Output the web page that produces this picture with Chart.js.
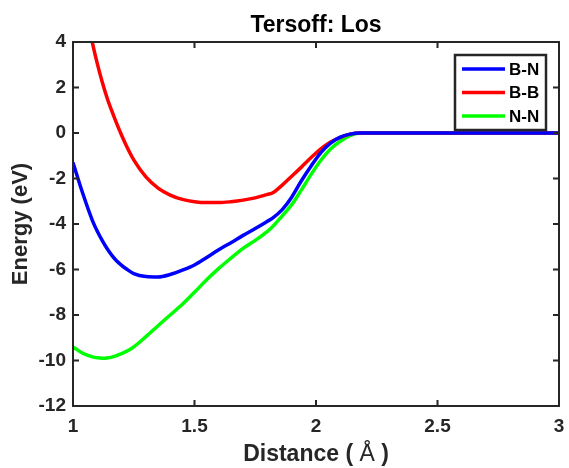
<!DOCTYPE html>
<html>
<head>
<meta charset="utf-8">
<script src="https://cdn.jsdelivr.net/npm/chart.js@4.4.1/dist/chart.umd.min.js"></script>
<style>
  html, body { margin: 0; padding: 0; background: #fff; }
  canvas { display: block; }
</style>
</head>
<body>
<canvas id="tersoffChart" width="569" height="468"></canvas>
<script>
// Pair energies of the Tersoff (Los) potential
const distance = [1.0, 1.04, 1.08, 1.1, 1.12, 1.14, 1.16, 1.18, 1.2, 1.22, 1.25, 1.3, 1.35, 1.4, 1.45, 1.5, 1.55, 1.6,
  1.65, 1.7, 1.75, 1.8, 1.82, 1.86, 1.9, 1.94, 1.98, 2.02, 2.06, 2.1, 2.14, 2.18, 2.4, 2.6, 2.8, 3.0];
const energyBN = [-1.3, -2.65, -3.85, -4.32, -4.72, -5.08, -5.38, -5.63, -5.82, -5.98, -6.18, -6.31, -6.33, -6.22, -6.03, -5.8, -5.47, -5.13,
  -4.82, -4.5, -4.2, -3.88, -3.75, -3.38, -2.82, -2.1, -1.45, -0.86, -0.44, -0.18, -0.05, 0, 0, 0, 0, 0];
const energyBB = [8.6, 6.0, 3.95, 3.05, 2.25, 1.55, 0.96, 0.41, -0.1, -0.57, -1.18, -1.93, -2.42, -2.73, -2.92, -3.02, -3.06, -3.06,
  -3.02, -2.95, -2.85, -2.7, -2.64, -2.3, -1.9, -1.5, -1.08, -0.7, -0.4, -0.19, -0.05, 0, 0, 0, 0, 0];
const energyNN = [-9.4, -9.68, -9.84, -9.88, -9.9, -9.89, -9.85, -9.78, -9.7, -9.6, -9.4, -8.95, -8.47, -8.0, -7.53, -7.0, -6.45, -5.95,
  -5.5, -5.07, -4.72, -4.32, -4.13, -3.65, -3.15, -2.5, -1.82, -1.2, -0.7, -0.36, -0.12, 0, 0, 0, 0, 0];

const seriesLabels = ['B-N', 'B-B', 'N-N'];
const seriesColors = ['#0000ff', '#ff0000', '#00ff00'];
const xTicks = [1, 1.5, 2, 2.5, 3];
const yTicks = [4, 2, 0, -2, -4, -6, -8, -10, -12];

const FONT = "'Liberation Sans', Arial, Helvetica, sans-serif";
const AXIS_COLOR = '#262626';

const toPoints = (ys) => distance.map((x, i) => ({ x: x, y: ys[i] }));

// Box around the plot with inward tick marks on all four sides, plus title and x label
const frame = {
  id: 'frame',
  afterDatasetsDraw(chart) {
    const { ctx, chartArea: a, scales } = chart;
    const len = 6;
    ctx.save();
    ctx.strokeStyle = AXIS_COLOR;
    ctx.lineWidth = 2;
    ctx.beginPath();
    xTicks.forEach((v) => {
      const px = scales.x.getPixelForValue(v);
      ctx.moveTo(px, a.bottom); ctx.lineTo(px, a.bottom - len);
      ctx.moveTo(px, a.top); ctx.lineTo(px, a.top + len);
    });
    yTicks.forEach((v) => {
      const py = scales.y.getPixelForValue(v);
      ctx.moveTo(a.left, py); ctx.lineTo(a.left + len, py);
      ctx.moveTo(a.right, py); ctx.lineTo(a.right - len, py);
    });
    ctx.stroke();
    ctx.strokeRect(a.left, a.top, a.right - a.left, a.bottom - a.top);

    const cx = (a.left + a.right) / 2;
    ctx.fillStyle = '#000';
    ctx.font = 'bold 23px ' + FONT;
    ctx.textAlign = 'center';
    ctx.textBaseline = 'middle';
    ctx.fillText('Tersoff: Los', cx, 26);

    // x label: the angstrom sign is set in regular weight
    const parts = [['Distance ( ', 'bold'], ['Å', 'normal'], [' )', 'bold']];
    let total = 0;
    parts.forEach((p) => { ctx.font = p[1] + ' 23px ' + FONT; total += ctx.measureText(p[0]).width; });
    let x = cx - total / 2;
    ctx.fillStyle = AXIS_COLOR;
    ctx.textAlign = 'left';
    parts.forEach((p) => {
      ctx.font = p[1] + ' 23px ' + FONT;
      ctx.fillText(p[0], x, 455);
      x += ctx.measureText(p[0]).width;
    });
    ctx.restore();
  }
};

// Legend box in the upper right corner of the axes
const boxLegend = {
  id: 'boxLegend',
  afterDraw(chart) {
    const { ctx, chartArea: a } = chart;
    const w = 91, h = 75;
    const x0 = a.right - 13 - w, y0 = a.top + 13;
    ctx.save();
    ctx.fillStyle = '#fff';
    ctx.fillRect(x0, y0, w, h);
    ctx.strokeStyle = AXIS_COLOR;
    ctx.lineWidth = 2.5;
    ctx.strokeRect(x0, y0, w, h);
    ctx.font = 'bold 17px ' + FONT;
    ctx.textAlign = 'left';
    ctx.textBaseline = 'middle';
    chart.data.datasets.forEach((ds, i) => {
      const y = y0 + 14 + i * 23.5;
      ctx.strokeStyle = ds.borderColor;
      ctx.lineWidth = 3.5;
      ctx.beginPath();
      ctx.moveTo(x0 + 7, y);
      ctx.lineTo(x0 + 50, y);
      ctx.stroke();
      ctx.fillStyle = '#000';
      ctx.fillText(ds.label, x0 + 54, y + 1);
    });
    ctx.restore();
  }
};

const ctx = document.getElementById('tersoffChart').getContext('2d');

new Chart(ctx, {
  type: 'line',
  data: {
    datasets: [energyBN, energyBB, energyNN].map((ys, i) => ({
      label: seriesLabels[i],
      data: toPoints(ys),
      borderColor: seriesColors[i],
      backgroundColor: seriesColors[i],
      borderWidth: 3.5,
      pointRadius: 0,
      cubicInterpolationMode: 'monotone',
      fill: false
    }))
  },
  options: {
    responsive: false,
    animation: false,
    layout: { padding: { top: 42, right: 10, left: 0, bottom: 0 } },
    plugins: {
      legend: { display: false },
      title: { display: false },
      tooltip: { enabled: false }
    },
    scales: {
      x: {
        type: 'linear',
        min: 1,
        max: 3,
        afterBuildTicks: (scale) => { scale.ticks = xTicks.map((v) => ({ value: v })); },
        afterFit: (scale) => {
          scale.height = 62;
          scale.paddingLeft = 0;
          scale.paddingRight = 0;
        },
        grid: { display: false, drawTicks: false },
        border: { display: false },
        ticks: {
          padding: 9,
          maxRotation: 0,
          color: AXIS_COLOR,
          font: { family: FONT, size: 19, weight: 'bold' },
          callback: (v) => String(v)
        }
      },
      y: {
        min: -12,
        max: 4,
        afterBuildTicks: (scale) => { scale.ticks = yTicks.map((v) => ({ value: v })); },
        afterFit: (scale) => {
          scale.width = 73;
          scale.paddingTop = 0;
          scale.paddingBottom = 0;
        },
        grid: { display: false, drawTicks: false },
        border: { display: false },
        ticks: {
          padding: 7,
          color: AXIS_COLOR,
          font: { family: FONT, size: 19, weight: 'bold' },
          callback: (v) => String(v)
        },
        title: {
          display: true,
          text: 'Energy (eV)',
          color: AXIS_COLOR,
          font: { family: FONT, size: 22, weight: 'bold' },
          padding: { top: 8, bottom: 0 }
        }
      }
    }
  },
  plugins: [frame, boxLegend]
});
</script>
</body>
</html>
